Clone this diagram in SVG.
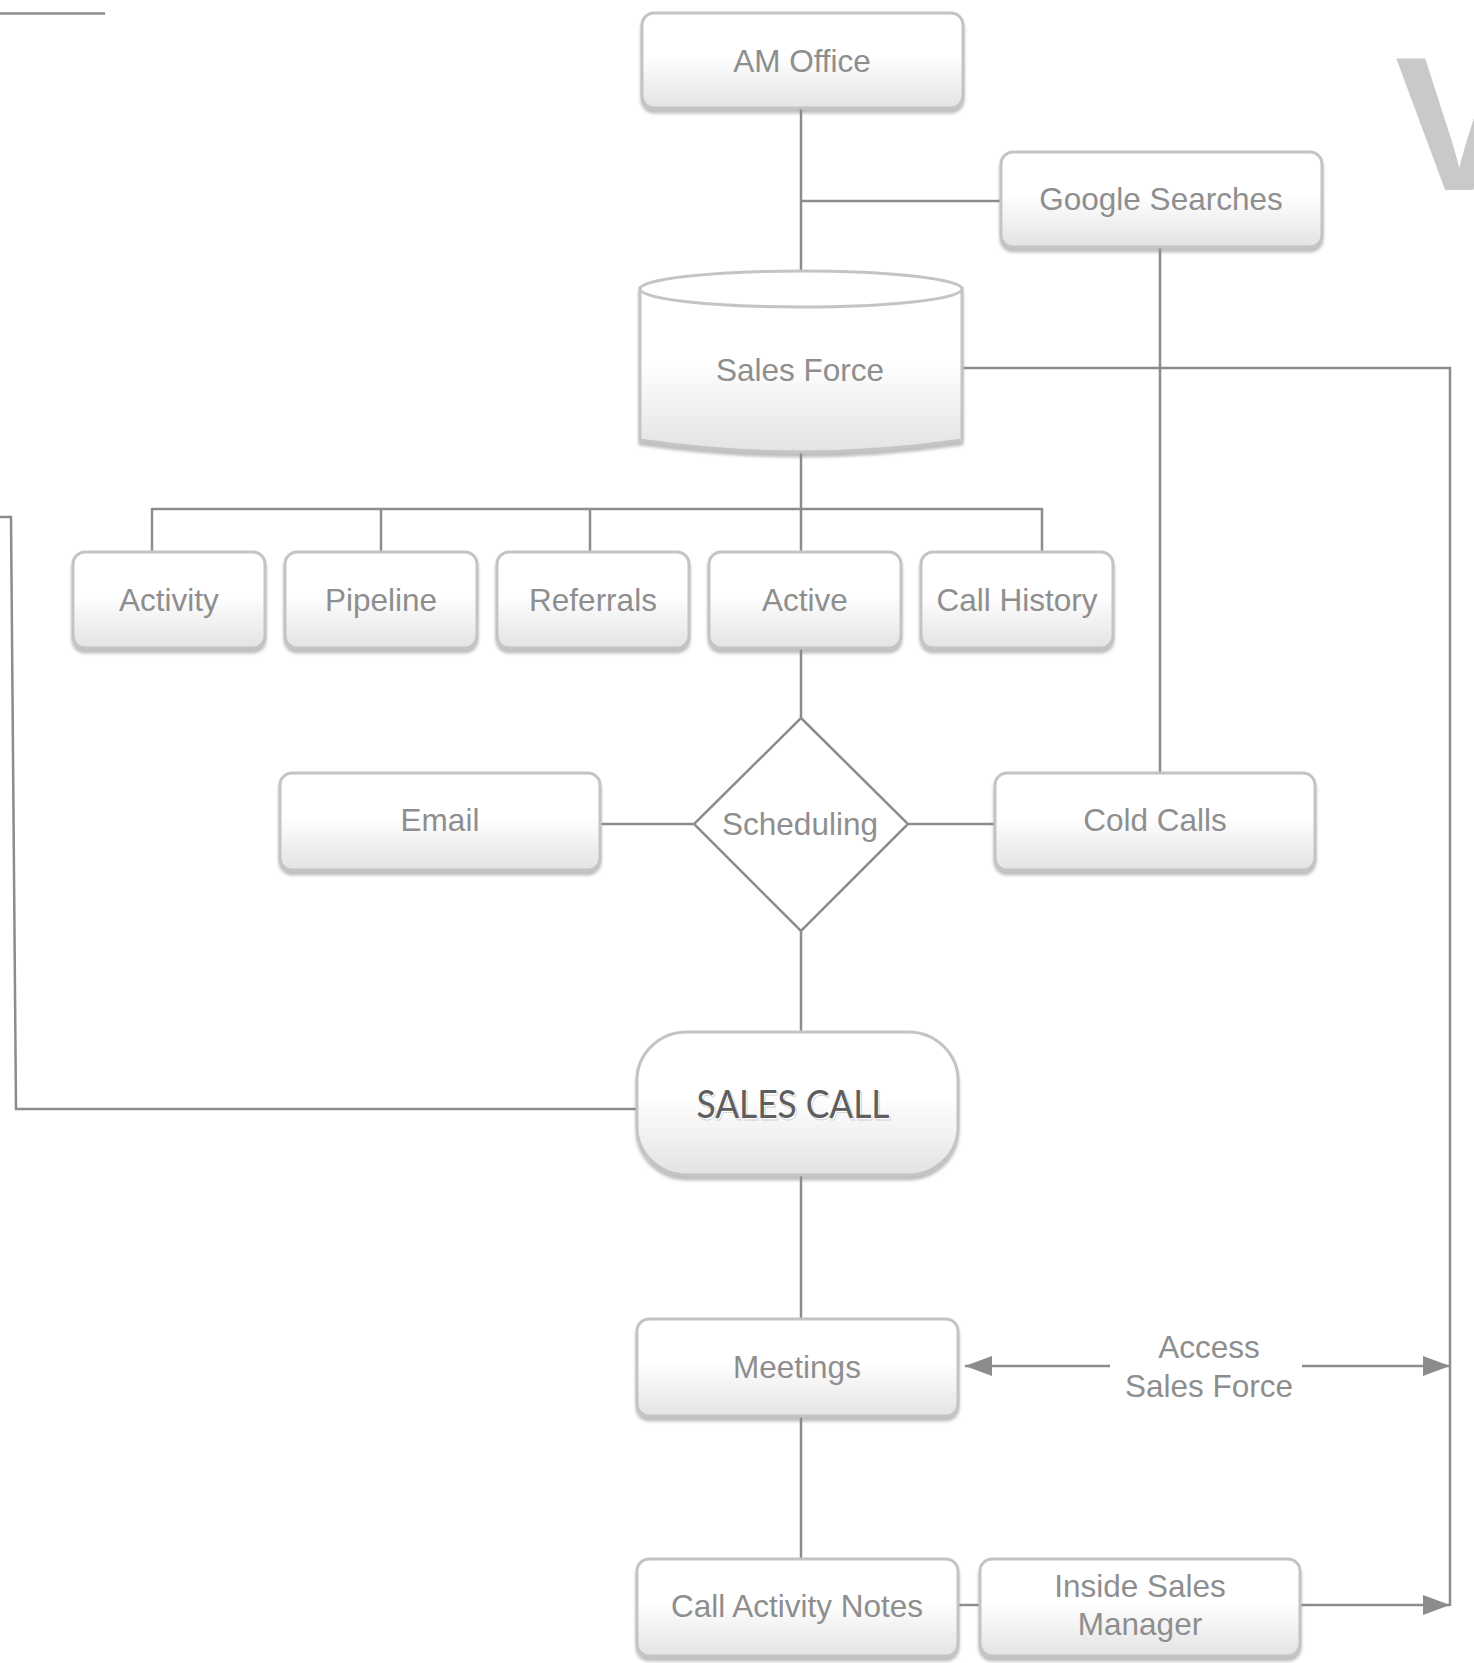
<svg xmlns="http://www.w3.org/2000/svg" width="1474" height="1663" viewBox="0 0 1474 1663">
<style>
.box{fill:url(#g);stroke:#c4c4c4;stroke-width:3;filter:url(#sh)}
.t{font-family:"Liberation Sans",Arial,sans-serif;font-size:31.5px;fill:#8e8e8e;text-anchor:middle}
.ln{fill:none;stroke:#8c8c8c;stroke-width:2.5}
</style>
<defs>
<linearGradient id="g" x1="0" y1="0" x2="0" y2="1">
<stop offset="0" stop-color="#ffffff"/>
<stop offset="0.45" stop-color="#ffffff"/>
<stop offset="1" stop-color="#e3e3e3"/>
</linearGradient>
<filter id="sh" x="-10%" y="-10%" width="120%" height="130%">
<feDropShadow dx="0" dy="4" stdDeviation="1.5" flood-color="#8a8a8a" flood-opacity="0.55"/>
</filter>
<marker id="ar" markerUnits="userSpaceOnUse" markerWidth="28" markerHeight="20" refX="27" refY="10" orient="auto">
<path d="M0,0 L27,10 L0,20 Z" fill="#8c8c8c"/>
</marker>
</defs>
<rect width="1474" height="1663" fill="#ffffff"/>
<text x="1395" y="190" font-family="Liberation Sans,Arial,sans-serif" font-weight="bold" font-size="192" fill="#c9c9c9">V</text>
<g id="connectors">
<line class="ln" x1="0" y1="13.5" x2="105" y2="13.5"/>
<line class="ln" x1="801" y1="108" x2="801" y2="270"/>
<line class="ln" x1="801" y1="201" x2="1001" y2="201"/>
<line class="ln" x1="1160" y1="247" x2="1160" y2="773"/>
<polyline class="ln" points="962,368 1450,368 1450,1606"/>
<line class="ln" x1="801" y1="452" x2="801" y2="509"/>
<line class="ln" x1="152" y1="509" x2="1042" y2="509"/>
<line class="ln" x1="152" y1="508" x2="152" y2="552"/>
<line class="ln" x1="381" y1="508" x2="381" y2="552"/>
<line class="ln" x1="590" y1="508" x2="590" y2="552"/>
<line class="ln" x1="801" y1="508" x2="801" y2="552"/>
<line class="ln" x1="1042" y1="508" x2="1042" y2="552"/>
<line class="ln" x1="801" y1="648" x2="801" y2="718"/>
<line class="ln" x1="600" y1="824" x2="693" y2="824"/>
<line class="ln" x1="909" y1="824" x2="995" y2="824"/>
<line class="ln" x1="801" y1="931" x2="801" y2="1032"/>
<polyline class="ln" points="0,517 11,517 16,1109 637,1109"/>
<line class="ln" x1="801" y1="1175" x2="801" y2="1319"/>
<line class="ln" x1="801" y1="1417" x2="801" y2="1559"/>
<line class="ln" x1="958" y1="1605" x2="980" y2="1605"/>
<line class="ln" x1="1300" y1="1605" x2="1450" y2="1605" marker-end="url(#ar)"/>
<line class="ln" x1="1110" y1="1366" x2="965" y2="1366" marker-end="url(#ar)"/>
<line class="ln" x1="1302" y1="1366" x2="1450" y2="1366" marker-end="url(#ar)"/>
</g>
<g id="am-office"><rect class="box" x="642" y="13" width="321" height="95" rx="12"/><text class="t" x="802" y="72">AM Office</text></g>
<g id="google-searches"><rect class="box" x="1001" y="152" width="321" height="95" rx="12"/><text class="t" x="1161" y="210">Google Searches</text></g>
<g id="sales-force">
<path d="M640,288 L640,440 Q801,464 962,440 L962,288 Z" fill="url(#g)" stroke="#c4c4c4" stroke-width="3" filter="url(#sh)"/>
<ellipse cx="801" cy="289" rx="161" ry="18" fill="#ffffff" stroke="#c4c4c4" stroke-width="3"/>
<text class="t" x="800" y="381">Sales Force</text>
</g>
<g id="activity"><rect class="box" x="73" y="552" width="192" height="96" rx="12"/><text class="t" x="169" y="611">Activity</text></g>
<g id="pipeline"><rect class="box" x="285" y="552" width="192" height="96" rx="12"/><text class="t" x="381" y="611">Pipeline</text></g>
<g id="referrals"><rect class="box" x="497" y="552" width="192" height="96" rx="12"/><text class="t" x="593" y="611">Referrals</text></g>
<g id="active"><rect class="box" x="709" y="552" width="192" height="96" rx="12"/><text class="t" x="805" y="611">Active</text></g>
<g id="call-history"><rect class="box" x="921" y="552" width="192" height="96" rx="12"/><text class="t" x="1017" y="611">Call History</text></g>
<g id="scheduling"><polygon points="801,718 908,824 801,931 694,824" fill="#ffffff" stroke="#8c8c8c" stroke-width="2.5"/><text class="t" x="800" y="835">Scheduling</text></g>
<g id="email"><rect class="box" x="280" y="773" width="320" height="97" rx="12"/><text class="t" x="440" y="831">Email</text></g>
<g id="cold-calls"><rect class="box" x="995" y="773" width="320" height="97" rx="12"/><text class="t" x="1155" y="831">Cold Calls</text></g>
<g id="sales-call">
<rect class="box" x="637" y="1032" width="321" height="143" rx="50" ry="48"/>
<text x="794.5" y="1120" font-family="Lato,'Open Sans',sans-serif" font-size="38" fill="#ffffff" stroke="#d0d0d0" stroke-width="0.8" text-anchor="middle" textLength="193" lengthAdjust="spacingAndGlyphs">SALES CALL</text>
<text x="793" y="1118" font-family="Lato,'Open Sans',sans-serif" font-size="38" fill="#5e5e5e" text-anchor="middle" textLength="193" lengthAdjust="spacingAndGlyphs">SALES CALL</text>
</g>
<g id="meetings"><rect class="box" x="637" y="1319" width="321" height="97" rx="12"/><text class="t" x="797" y="1378">Meetings</text></g>
<g id="access-label"><text class="t" x="1209" y="1358">Access</text><text class="t" x="1209" y="1397">Sales Force</text></g>
<g id="call-activity-notes"><rect class="box" x="637" y="1559" width="321" height="97" rx="12"/><text class="t" x="797" y="1617">Call Activity Notes</text></g>
<g id="inside-sales-manager"><rect class="box" x="980" y="1559" width="320" height="97" rx="12"/><text class="t" x="1140" y="1597">Inside Sales</text><text class="t" x="1140" y="1635">Manager</text></g>
</svg>
